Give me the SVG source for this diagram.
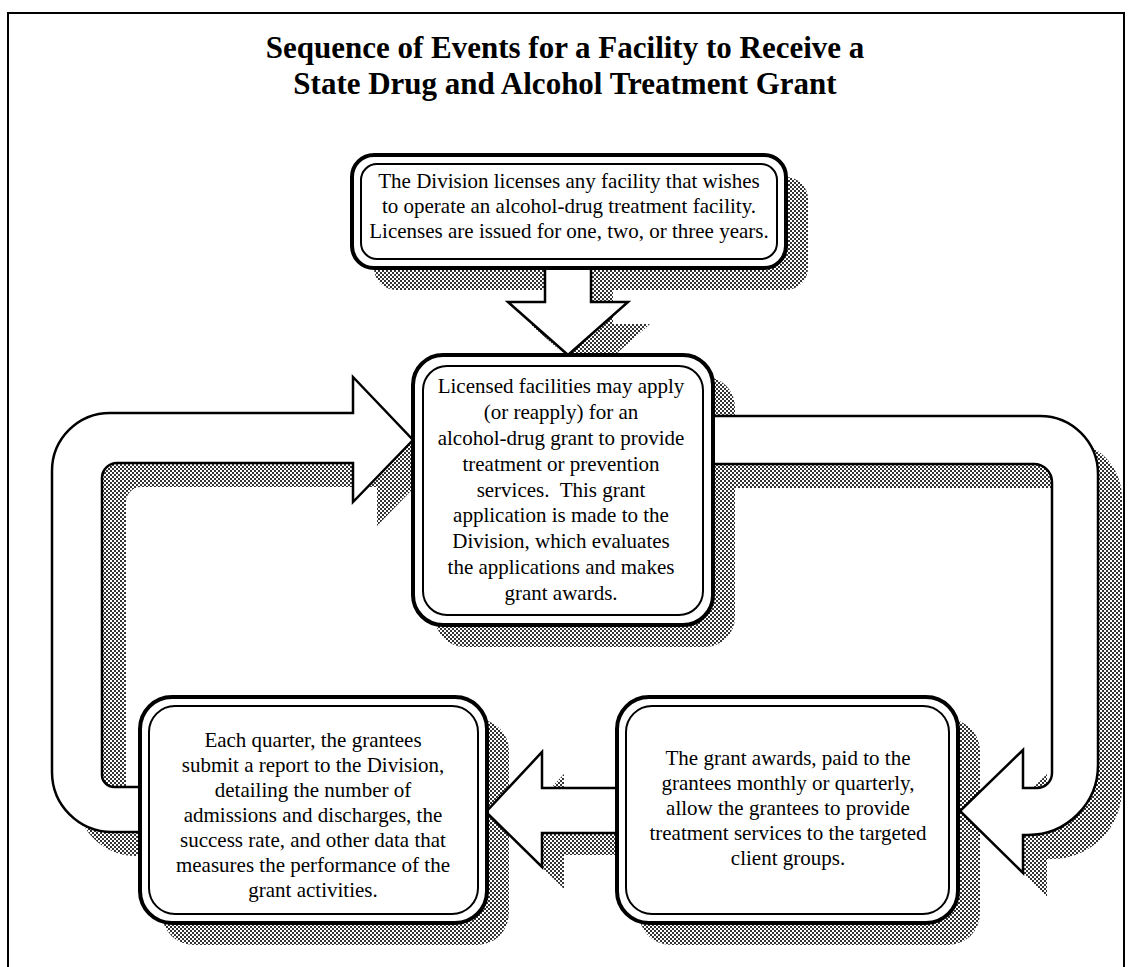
<svg xmlns="http://www.w3.org/2000/svg" width="1129" height="967" viewBox="0 0 1129 967">
<defs>
<pattern id="dots" width="4" height="4" patternUnits="userSpaceOnUse"><rect x="0" y="0" width="2" height="2" fill="#333"/><rect x="2" y="2" width="2" height="2" fill="#333"/></pattern>
<style>
.title{font-family:"Liberation Serif","Times New Roman",serif;font-weight:bold;font-size:31px;text-anchor:middle;fill:#000}
.t{font-family:"Liberation Serif","Times New Roman",serif;font-size:21px;text-anchor:middle;fill:#000}
.sh{fill:url(#dots);stroke:none}
.arrow{fill:#fff;stroke:#000;stroke-width:2.5;stroke-linejoin:miter}
.outer{fill:#fff;stroke:#000;stroke-width:4}
.inner{fill:none;stroke:#000;stroke-width:2}
.frame{fill:none;stroke:#000;stroke-width:2}
</style>
<path id="loopL" d="M150 832 H112 A60 60 0 0 1 52 772 V471 A58 58 0 0 1 110 413 H353 V377 L413 440 L353 502 V463 H117 A15 15 0 0 0 102 478 V775 A12 12 0 0 0 114 787 H150 Z"/>
<path id="loopR" d="M705 416 H1040 A58 58 0 0 1 1098 474 V765 A70 70 0 0 1 1028 835 H1023 V873 L960 811 L1023 750 V788 H1037 A15 15 0 0 0 1052 773 V482 A18 18 0 0 0 1034 464 H705 Z"/>
<path id="arrMid" d="M625 788 H542 V752 L486 812 L542 867 V833 H625 Z"/>
<path id="arrDown" d="M545 262 V302 H508 L568 355 L628 302 H591 V262 Z"/>
<rect id="boxTop" x="352" y="155" width="434" height="113" rx="22"/>
<rect id="boxMid" x="413" y="355" width="300" height="270" rx="30"/>
<rect id="boxBL" x="140" y="697" width="347" height="226" rx="32"/>
<rect id="boxBR" x="617" y="697" width="341" height="226" rx="32"/>
</defs>
<rect width="1129" height="967" fill="#fff"/>
<path class="frame" d="M8 967 V13 H1124 V967"/>
<g id="title">
<text class="title" x="565" y="58">Sequence of Events for a Facility to Receive a</text>
<text class="title" x="565" y="94">State Drug and Alcohol Treatment Grant</text>
</g>
<g id="shadows">
<g transform="translate(24,24)">
<use href="#loopL" class="sh"/>
<use href="#loopR" class="sh"/>
</g>
<g transform="translate(22,22)">
<use href="#arrMid" class="sh"/>
<use href="#arrDown" class="sh"/>
<use href="#boxTop" class="sh"/>
<use href="#boxMid" class="sh"/>
<use href="#boxBL" class="sh"/>
<use href="#boxBR" class="sh"/>
</g>
</g>
<g id="connectors">
<use href="#loopL" class="arrow"/>
<use href="#loopR" class="arrow"/>
<use href="#arrMid" class="arrow"/>
<use href="#arrDown" class="arrow"/>
</g>
<g id="node-license">
<use href="#boxTop" class="outer"/>
<rect class="inner" x="361" y="164" width="416" height="95" rx="16"/>
<text class="t" x="569" y="188">The Division licenses any facility that wishes</text>
<text class="t" x="569" y="213">to operate an alcohol-drug treatment facility.</text>
<text class="t" x="569" y="238">Licenses are issued for one, two, or three years.</text>
</g>
<g id="node-apply">
<use href="#boxMid" class="outer"/>
<rect class="inner" x="423" y="366" width="280" height="249" rx="24"/>
<text class="t" x="561" y="393">Licensed facilities may apply</text>
<text class="t" x="561" y="419">(or reapply) for an</text>
<text class="t" x="561" y="445">alcohol-drug grant to provide</text>
<text class="t" x="561" y="471">treatment or prevention</text>
<text class="t" x="561" y="497">services.&#160; This grant</text>
<text class="t" x="561" y="522">application is made to the</text>
<text class="t" x="561" y="548">Division, which evaluates</text>
<text class="t" x="561" y="574">the applications and makes</text>
<text class="t" x="561" y="600">grant awards.</text>
</g>
<g id="node-report">
<use href="#boxBL" class="outer"/>
<rect class="inner" x="149" y="706" width="329" height="208" rx="26"/>
<text class="t" x="313" y="747">Each quarter, the grantees</text>
<text class="t" x="313" y="772">submit a report to the Division,</text>
<text class="t" x="313" y="797">detailing the number of</text>
<text class="t" x="313" y="822">admissions and discharges, the</text>
<text class="t" x="313" y="847">success rate, and other data that</text>
<text class="t" x="313" y="872">measures the performance of the</text>
<text class="t" x="313" y="897">grant activities.</text>
</g>
<g id="node-awards">
<use href="#boxBR" class="outer"/>
<rect class="inner" x="626" y="706" width="323" height="208" rx="26"/>
<text class="t" x="788" y="765">The grant awards, paid to the</text>
<text class="t" x="788" y="790">grantees monthly or quarterly,</text>
<text class="t" x="788" y="815">allow the grantees to provide</text>
<text class="t" x="788" y="840">treatment services to the targeted</text>
<text class="t" x="788" y="865">client groups.</text>
</g>
</svg>
